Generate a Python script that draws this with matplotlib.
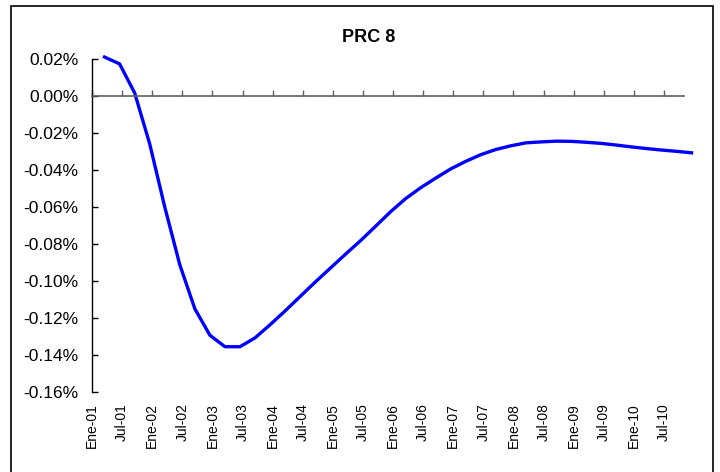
import matplotlib.pyplot as plt
from matplotlib.patches import Rectangle
import numpy as np

plt.rcParams['font.family'] = ['Liberation Sans', 'DejaVu Sans']

# quarterly series, values in percent (0.02 -> 0.02%)
prc8 = [0.0212, 0.0175, 0.0018, -0.0258, -0.0599, -0.0912, -0.1150, -0.1293,
        -0.1355, -0.1355, -0.1307, -0.1236, -0.1161, -0.1083, -0.1005, -0.0930,
        -0.0855, -0.0782, -0.0704, -0.0625, -0.0554, -0.0495, -0.0443, -0.0393,
        -0.0352, -0.0316, -0.0288, -0.0268, -0.0252, -0.0247, -0.0243, -0.0244,
        -0.0249, -0.0255, -0.0264, -0.0274, -0.0283, -0.0291, -0.0298, -0.0306]
# months since Ene-01, mid-quarter
months = 2.5 + 3 * np.arange(len(prc8))

tick_labels = ['Ene-01', 'Jul-01', 'Ene-02', 'Jul-02', 'Ene-03', 'Jul-03',
               'Ene-04', 'Jul-04', 'Ene-05', 'Jul-05', 'Ene-06', 'Jul-06',
               'Ene-07', 'Jul-07', 'Ene-08', 'Jul-08', 'Ene-09', 'Jul-09',
               'Ene-10', 'Jul-10']
tick_pos = [6 * i for i in range(len(tick_labels))]
y_ticks = [0.02, 0.00, -0.02, -0.04, -0.06, -0.08, -0.10, -0.12, -0.14, -0.16]

fig = plt.figure(figsize=(7.2, 4.72), dpi=100)
ax = fig.add_axes([0.1278, 0.1695, 0.8222, 0.7049])

ax.plot(months, prc8, color='#0000FF', linewidth=2.4, clip_on=False,
        solid_joinstyle='round')

ax.set_xlim(0, 118)
ax.set_ylim(-0.16, 0.02)

# y axis
ax.set_yticks(y_ticks)
ax.set_yticklabels([f"{v:.2f}%" for v in y_ticks], fontsize=12.5)
ax.tick_params(axis='y', direction='in', length=4, width=1, pad=10)
ax.spines['left'].set_linewidth(1)

# x axis line crossing at zero
ax.spines['top'].set_visible(False)
ax.spines['right'].set_visible(False)
ax.spines['bottom'].set_position(('data', 0))
ax.spines['bottom'].set_color('#606060')
ax.spines['bottom'].set_linewidth(1.2)
ax.set_xticks(tick_pos)
ax.tick_params(axis='x', direction='in', length=4, width=1, color='#606060',
               labelbottom=False)

# labels at the bottom of the plot area
sec = ax.secondary_xaxis(0.0)
sec.set_xticks(tick_pos)
sec.set_xticklabels(tick_labels, rotation=90, fontsize=10)
sec.tick_params(length=0, pad=8)
sec.spines['bottom'].set_visible(False)

fig.text(0.512, 0.92, 'PRC 8', ha='center', va='center', fontsize=13,
         fontweight='bold')

# chart border
fig.patches.append(Rectangle((11 / 720, -0.02), 702 / 720, 1 - 6 / 472 + 0.02,
                             transform=fig.transFigure, fill=False,
                             edgecolor='black', linewidth=1.2))

fig.savefig('out.png', dpi=100)
